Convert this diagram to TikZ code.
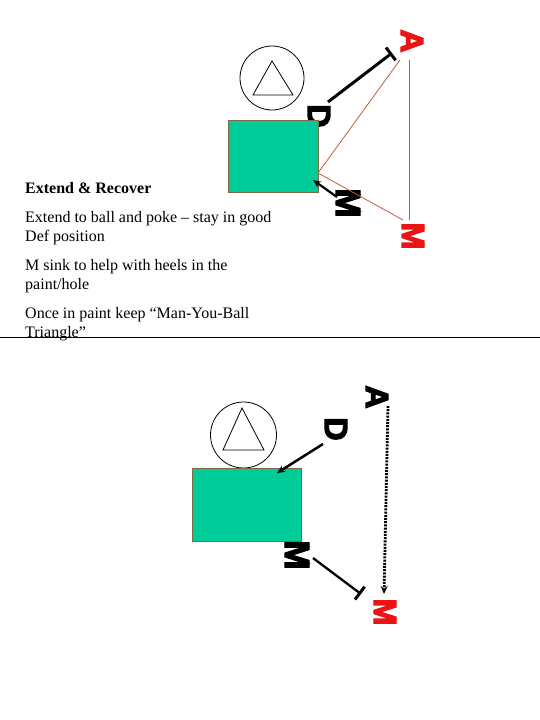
\documentclass[tikz,border=0pt]{standalone}
\usepackage{fontspec}
\setmainfont{Liberation Serif}
\newfontfamily\heavyfont[FakeBold=4]{Liberation Sans Bold}
\usetikzlibrary{arrows.meta}
\definecolor{padgreen}{RGB}{0,204,153}
\definecolor{padedge}{RGB}{130,105,70}
\definecolor{thinline}{RGB}{190,95,60}
\definecolor{letterred}{RGB}{235,20,20}
\begin{document}
\begin{tikzpicture}[x=1pt,y=-1pt,
  letter/.style={font=\heavyfont\fontsize{32}{32}\selectfont, rotate=-90, inner sep=0pt},
  bigletter/.style={letter, font=\heavyfont\fontsize{35}{35}\selectfont},
  redletter/.style={letter, text=letterred},
  txt/.style={anchor=base west, inner sep=0pt, font=\fontsize{16}{19}\selectfont},
  pad/.style={draw=padedge, fill=padgreen, line width=1pt},
  ring/.style={draw=black, line width=0.8pt},
  tri/.style={draw=black, line width=0.8pt, fill=white},
  thin/.style={draw=thinline, line width=0.8pt},
  moveto/.style={draw=black, line width=2.5pt, -{Stealth[length=8pt,width=7pt]}},
  block/.style={draw=black, line width=3pt, -{Bar[width=16pt,line width=3pt]}},
  ballpath/.style={draw=black, line width=2.8pt, dash pattern=on 2pt off 1.2pt, -{Stealth[length=8pt,width=7pt]}}
]
\useasboundingbox (0,0) rectangle (540,720);

% ---------- top diagram ----------
\node[redletter] (A1) at (412,41) {A};
\node[letter] (D1) at (319,116) {D};
\node[bigletter] (M1) at (348,203) {M};
\node[redletter] (R1) at (413,236) {M};

\node[ring, circle, minimum size=64pt, inner sep=0pt] (C1) at (272,78) {};
\draw[tri] (272,61) -- (253,95) -- (293,95) -- cycle;
\node[pad, minimum width=90pt, minimum height=72pt, inner sep=0pt, anchor=north west] (P1) at (228,120) {};

\coordinate (a1v) at (409,60);
\coordinate (a1d) at (400,60);
\coordinate (p1e) at (318,173);
\coordinate (r1d) at (403,220);
\coordinate (r1v) at (409,220);
\draw[thin] (a1v) -- (r1v);
\draw[thin] (a1d) -- (p1e) -- (r1d);

\coordinate (d1s) at (328,102);
\coordinate (d1e) at (392,53);
\draw[block] (d1s) -- (d1e);

\coordinate (m1s) at (337,197);
\coordinate (m1e) at (313,180);
\draw[moveto, line width=2.2pt] (m1s) -- (m1e);

% ---------- text ----------
\node[txt] (t0) at (25,193) {\textbf{Extend \& Recover}};
\node[txt] (t1) at (25,222) {Extend to ball and poke -- stay in good};
\node[txt] (t2) at (25,241) {Def position};
\node[txt] (t3) at (25,270) {M sink to help with heels in the};
\node[txt] (t4) at (25,289) {paint/hole};
\node[txt] (t5) at (25,318) {Once in paint keep “Man-You-Ball};
\node[txt] (t6) at (25,337) {Triangle”};

\coordinate (divl) at (0,337);
\coordinate (divr) at (540,337);
\draw[line width=0.9pt] (divl) -- (divr);

% ---------- bottom diagram ----------
\node[letter] (A2) at (377,397) {A};
\node[letter] (D2) at (336,429) {D};
\node[bigletter] (M2) at (297,555) {M};
\node[redletter] (R2) at (385,612) {M};

\node[ring, circle, minimum size=66pt, inner sep=0pt] (C2) at (243.5,435) {};
\draw[tri] (242,408) -- (223,450) -- (264,450) -- cycle;
\node[pad, minimum width=109pt, minimum height=73pt, inner sep=0pt, anchor=north west] (P2) at (192,468) {};

\coordinate (d2s) at (323,444);
\coordinate (d2e) at (277,473);
\draw[moveto] (d2s) -- (d2e);

\coordinate (m2s) at (313,558);
\coordinate (m2e) at (361,594);
\draw[block, line width=2.3pt] (m2s) -- (m2e);

\coordinate (a2s) at (388,406);
\coordinate (a2e) at (384,594);
\draw[ballpath] (a2s) -- (a2e);
\end{tikzpicture}
\end{document}
